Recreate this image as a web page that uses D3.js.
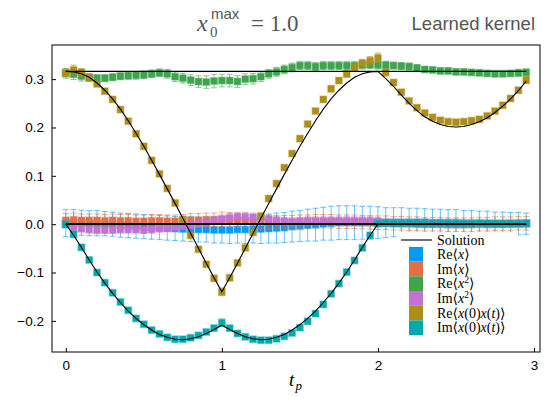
<!DOCTYPE html>
<meta charset="utf-8">
<style>body{margin:0;background:#fff} svg{display:block}</style>
<svg width="548" height="398"></svg>
<script src="https://d3js.org/d3.v7.min.js"></script>
<script>

// contour time grid
var tp = [0,0.05,0.1,0.15,0.2,0.25,0.3,0.35,0.4,0.45,0.5,0.55,0.6,0.65,0.7,0.75,0.8,0.85,0.9,0.95,
  1,1.05,1.1,1.15,1.2,1.25,1.3,1.35,1.4,1.45,1.5,1.55,1.6,1.65,1.7,1.75,1.8,1.85,1.9,1.95,
  2,2.05,2.1,2.15,2.2,2.25,2.3,2.35,2.4,2.45,2.5,2.55,2.6,2.65,2.7,2.75,2.8,2.85,2.9,2.95];

var reX = [0.002,0.003,0.003,0.002,0.002,0.001,0.000,-0.002,-0.003,-0.004,-0.005,-0.006,-0.007,-0.008,-0.009,-0.010,-0.010,-0.011,-0.011,-0.012,
  -0.012,-0.012,-0.011,-0.011,-0.010,-0.010,-0.009,-0.008,-0.007,-0.005,-0.004,-0.002,-0.001,0.001,0.002,0.003,0.003,0.003,0.003,0.003,
  0.003,0.003,0.004,0.004,0.004,0.004,0.004,0.003,0.003,0.003,0.003,0.002,0.002,0.002,0.002,0.001,0.001,0.001,0.001,0.001];
var reXErr = [0.028,0.027,0.026,0.026,0.026,0.025,0.025,0.025,0.025,0.025,0.025,0.025,0.025,0.025,0.025,0.025,0.026,0.026,0.026,0.027,
  0.027,0.028,0.028,0.029,0.029,0.030,0.030,0.031,0.031,0.032,0.032,0.033,0.034,0.034,0.035,0.035,0.035,0.035,0.034,0.034,
  0.033,0.031,0.030,0.030,0.029,0.029,0.028,0.028,0.028,0.027,0.027,0.026,0.026,0.025,0.025,0.024,0.024,0.023,0.023,0.022];

var imX = [0.008,0.009,0.008,0.008,0.008,0.007,0.008,0.007,0.007,0.006,0.006,0.007,0.007,0.006,0.006,0.007,0.008,0.008,0.009,0.009,
  0.010,0.009,0.008,0.007,0.006,0.005,0.005,0.004,0.004,0.004,0.005,0.005,0.006,0.006,0.006,0.005,0.005,0.005,0.004,0.004,
  0.003,0.003,0.002,0.002,0.001,0.001,0.000,0.000,0.000,-0.001,-0.001,-0.001,-0.001,0.000,0.000,0.001,0.001,0.001,0.002,0.002];
var imXErr = [0.014,0.014,0.013,0.013,0.013,0.013,0.013,0.013,0.013,0.013,0.013,0.013,0.013,0.013,0.013,0.013,0.014,0.014,0.014,0.014,
  0.015,0.015,0.014,0.014,0.014,0.014,0.014,0.014,0.014,0.014,0.014,0.014,0.014,0.014,0.014,0.014,0.014,0.014,0.014,0.014,
  0.014,0.014,0.014,0.014,0.014,0.014,0.014,0.014,0.014,0.014,0.014,0.014,0.014,0.014,0.014,0.014,0.014,0.014,0.014,0.014];

var reXX = [0.312,0.310,0.306,0.303,0.302,0.302,0.304,0.306,0.307,0.308,0.309,0.311,0.313,0.311,0.305,0.302,0.298,0.295,0.294,0.296,
  0.297,0.297,0.295,0.300,0.301,0.305,0.311,0.315,0.320,0.324,0.328,0.328,0.326,0.328,0.328,0.328,0.328,0.328,0.329,0.330,
  0.329,0.329,0.328,0.327,0.326,0.323,0.320,0.319,0.317,0.317,0.315,0.315,0.314,0.313,0.312,0.311,0.311,0.312,0.313,0.314];
var reXXErr = [0.010,0.011,0.010,0.008,0.007,0.007,0.007,0.007,0.007,0.008,0.008,0.008,0.008,0.009,0.010,0.010,0.011,0.012,0.013,0.014,
  0.013,0.013,0.012,0.011,0.011,0.010,0.009,0.009,0.009,0.009,0.008,0.008,0.008,0.008,0.008,0.008,0.008,0.008,0.008,0.008,
  0.008,0.008,0.007,0.007,0.007,0.007,0.006,0.006,0.006,0.006,0.006,0.006,0.006,0.006,0.006,0.006,0.006,0.006,0.007,0.007];

var imXX = [0.000,-0.006,-0.009,-0.011,-0.012,-0.012,-0.012,-0.011,-0.011,-0.011,-0.012,-0.011,-0.009,-0.008,-0.006,-0.004,-0.002,0.001,0.003,0.007,
  0.010,0.013,0.015,0.015,0.014,0.012,0.010,0.008,0.006,0.005,0.006,0.007,0.007,0.007,0.007,0.007,0.007,0.007,0.007,0.007,
  0.006,0.004,0.003,0.002,0.002,0.001,0.001,0.001,0.000,0.000,0.000,0.001,0.001,0.001,0.000,0.000,0.000,0.001,0.001,0.001];
var imXXErr = [0.006,0.007,0.007,0.007,0.007,0.007,0.007,0.007,0.007,0.007,0.007,0.007,0.007,0.007,0.007,0.007,0.007,0.008,0.008,0.008,
  0.009,0.009,0.009,0.009,0.009,0.009,0.008,0.008,0.008,0.008,0.008,0.008,0.008,0.008,0.008,0.008,0.008,0.008,0.008,0.008,
  0.007,0.006,0.006,0.006,0.006,0.006,0.006,0.006,0.006,0.006,0.006,0.006,0.006,0.006,0.006,0.006,0.006,0.006,0.006,0.006];

var reCorr = [0.313,0.319,0.314,0.304,0.290,0.275,0.258,0.237,0.213,0.187,0.161,0.132,0.104,0.074,0.044,0.010,-0.023,-0.052,-0.083,-0.112,
  -0.140,-0.111,-0.080,-0.049,-0.017,0.017,0.053,0.084,0.117,0.146,0.177,0.207,0.234,0.258,0.280,0.297,0.311,0.324,0.333,0.338,
  0.344,0.314,0.293,0.273,0.255,0.241,0.230,0.221,0.215,0.212,0.211,0.212,0.214,0.217,0.224,0.234,0.246,0.260,0.277,0.298];
var reCorrErr = [0.008,0.010,0.008,0.006,0.005,0.005,0.005,0.005,0.005,0.005,0.005,0.005,0.005,0.005,0.005,0.005,0.005,0.005,0.005,0.006,
  0.008,0.006,0.005,0.005,0.005,0.005,0.005,0.005,0.005,0.005,0.005,0.005,0.005,0.005,0.006,0.006,0.007,0.008,0.008,0.009,
  0.010,0.008,0.006,0.005,0.005,0.005,0.005,0.005,0.005,0.005,0.005,0.005,0.005,0.005,0.005,0.005,0.005,0.005,0.006,0.007];

var imCorr = [-0.001,-0.021,-0.048,-0.074,-0.100,-0.121,-0.142,-0.161,-0.178,-0.195,-0.207,-0.219,-0.227,-0.234,-0.238,-0.238,-0.235,-0.230,-0.223,-0.215,
  -0.204,-0.215,-0.226,-0.233,-0.238,-0.240,-0.240,-0.237,-0.232,-0.225,-0.214,-0.201,-0.185,-0.166,-0.144,-0.123,-0.099,-0.075,-0.049,-0.023,
  0.001,0.002,0.001,0.001,0.002,0.001,0.001,0.001,0.002,0.001,0.001,0.001,0.001,0.002,0.001,0.001,0.001,0.001,0.001,0.002];
var imCorrErr = [0.005,0.005,0.005,0.004,0.004,0.004,0.004,0.004,0.004,0.004,0.004,0.004,0.004,0.004,0.004,0.004,0.004,0.004,0.004,0.005,
  0.008,0.005,0.004,0.004,0.004,0.004,0.004,0.004,0.004,0.004,0.004,0.004,0.004,0.004,0.004,0.004,0.004,0.004,0.004,0.004,
  0.005,0.005,0.005,0.005,0.005,0.005,0.005,0.005,0.005,0.005,0.005,0.005,0.005,0.005,0.005,0.005,0.005,0.005,0.005,0.005];

// exact solution
var solFlatT = [0, 2.95];
var solReX = [0, 0], solImX = [0, 0], solReXX = [0.316, 0.316], solImXX = [0, 0];
var solReCorr = [0.316,0.315,0.311,0.304,0.292,0.277,0.259,0.238,0.214,0.188,0.161,0.132,0.103,0.073,0.043,0.012,-0.019,-0.050,-0.081,-0.111,
  -0.140,-0.111,-0.081,-0.050,-0.019,0.012,0.043,0.073,0.103,0.132,0.161,0.188,0.214,0.238,0.259,0.277,0.292,0.304,0.311,0.315,
  0.316,0.301,0.285,0.267,0.250,0.235,0.222,0.213,0.206,0.202,0.201,0.202,0.206,0.212,0.220,0.231,0.244,0.259,0.276,0.296];
var solImCorr = [0,-0.023,-0.048,-0.074,-0.099,-0.122,-0.143,-0.162,-0.180,-0.195,-0.208,-0.219,-0.228,-0.234,-0.238,-0.239,-0.237,-0.233,-0.226,-0.218,
  -0.209,-0.218,-0.226,-0.233,-0.237,-0.239,-0.238,-0.234,-0.228,-0.219,-0.208,-0.195,-0.180,-0.162,-0.143,-0.122,-0.099,-0.074,-0.048,-0.023,
  0,0,0,0,0,0,0,0,0,0,0,0,0,0,0,0,0,0,0,0];

var xTicks = [0, 1, 2, 3];
var yTicks = [-0.2, -0.1, 0, 0.1, 0.2, 0.3];

var seriesNames = ["reX", "imX", "reXX", "imXX", "reCorr", "imCorr"];
var colors = ["#009afa", "#e36f47", "#3ea44e", "#c371d2", "#ac8e18", "#00a9ad"];

var svg = d3.select("svg");
var x = d3.scaleLinear().domain([-0.0885, 3.0385]).range([52, 540]),
    y = d3.scaleLinear().domain([-0.2644, 0.3706]).range([352, 45]);

var series = [
  {vals: reX, err: reXErr},
  {vals: imX, err: imXErr},
  {vals: reXX, err: reXXErr},
  {vals: imXX, err: imXXErr},
  {vals: reCorr, err: reCorrErr},
  {vals: imCorr, err: imCorrErr}
];

var plot = svg.append("g");

series.forEach(function(s, k) {
  var c = colors[k];
  var pts = tp.map(function(t, i) { return {t: t, v: s.vals[i], e: s.err[i]}; });
  var g = plot.append("g").attr("class", seriesNames[k]);
  var eb = g.append("g").attr("stroke", c).attr("stroke-opacity", 0.6).attr("stroke-width", 1);
  eb.selectAll("line.bar").data(pts).enter().append("line").attr("class", "bar")
    .attr("x1", function(d) { return x(d.t); }).attr("x2", function(d) { return x(d.t); })
    .attr("y1", function(d) { return y(d.v - d.e); }).attr("y2", function(d) { return y(d.v + d.e); });
  [-1, 1].forEach(function(sgn) {
    eb.selectAll("line.cap" + sgn).data(pts).enter().append("line")
      .attr("x1", function(d) { return x(d.t) - 3; }).attr("x2", function(d) { return x(d.t) + 3; })
      .attr("y1", function(d) { return y(d.v + sgn * d.e); }).attr("y2", function(d) { return y(d.v + sgn * d.e); });
  });
  g.selectAll("rect").data(pts).enter().append("rect")
    .attr("x", function(d) { return x(d.t) - 3.3; })
    .attr("y", function(d) { return y(d.v) - 3.3; })
    .attr("width", 6.6).attr("height", 6.6)
    .attr("fill", c).attr("stroke", c).attr("stroke-opacity", 0.35).attr("stroke-width", 1.6);
});

// solution lines
var line = d3.line().x(function(d) { return x(d[0]); }).y(function(d) { return y(d[1]); });
var sol = svg.append("g").attr("fill", "none").attr("stroke", "#000").attr("stroke-width", 1.1);
[solReX, solImX, solReXX, solImXX].forEach(function(v) {
  sol.append("path").attr("d", line(solFlatT.map(function(t, i) { return [t, v[i]]; })));
});
[solReCorr, solImCorr].forEach(function(v) {
  sol.append("path").attr("d", line(tp.map(function(t, i) { return [t, v[i]]; })));
});

// axes
var fontTick = "'Liberation Sans', Arial, sans-serif";
svg.append("g").attr("transform", "translate(0,352)")
  .call(d3.axisBottom(x).tickValues(xTicks).tickSize(-4).tickPadding(8).tickFormat(d3.format("d")))
  .call(function(g) { g.select(".domain").remove(); })
  .selectAll("text").attr("font-family", fontTick).attr("font-size", 13.5).attr("fill", "#000");
svg.append("g").attr("transform", "translate(52,0)")
  .call(d3.axisLeft(y).tickValues(yTicks).tickSize(-4).tickPadding(8).tickFormat(d3.format(".1f")))
  .call(function(g) { g.select(".domain").remove(); })
  .selectAll("text").attr("font-family", fontTick).attr("font-size", 13.5).attr("fill", "#000");

svg.append("rect").attr("x", 52).attr("y", 45).attr("width", 488).attr("height", 307)
  .attr("fill", "none").attr("stroke", "#000").attr("stroke-width", 1);

// legend
var serif = "'Liberation Serif', 'DejaVu Serif', serif";
var leg = svg.append("g");
leg.append("rect").attr("x", 398).attr("y", 232).attr("width", 120).attr("height", 106).attr("fill", "#fff");
leg.append("line").attr("x1", 401).attr("x2", 432).attr("y1", 240).attr("y2", 240).attr("stroke", "#000").attr("stroke-width", 1.1);
leg.append("text").attr("x", 437).attr("y", 244.5).attr("font-family", serif).attr("font-size", 14).text("Solution");

var legLabels = [
  [["Re⟨"], ["x", "i"], ["⟩"]],
  [["Im⟨"], ["x", "i"], ["⟩"]],
  [["Re⟨"], ["x", "i"], ["2", "sup"], ["⟩", "down"]],
  [["Im⟨"], ["x", "i"], ["2", "sup"], ["⟩", "down"]],
  [["Re⟨"], ["x", "i"], ["(0)"], ["x", "i"], ["("], ["t", "i"], [")⟩"]],
  [["Im⟨"], ["x", "i"], ["(0)"], ["x", "i"], ["("], ["t", "i"], [")⟩"]]
];
legLabels.forEach(function(parts, k) {
  var cy = 254.3 + k * 14.7;
  leg.append("rect").attr("x", 409).attr("y", cy - 7.35).attr("width", 14).attr("height", 14.7).attr("fill", colors[k]);
  var tx = leg.append("text").attr("x", 437).attr("y", cy + 4.5).attr("font-family", serif).attr("font-size", 14);
  parts.forEach(function(p) {
    var ts = tx.append("tspan").text(p[0]);
    if (p[1] === "i") ts.attr("font-style", "italic");
    if (p[1] === "sup") ts.attr("font-size", 9.5).attr("dy", -5);
    if (p[1] === "down") ts.attr("dy", 5);
  });
});

// title
svg.append("text").attr("x", 197).attr("y", 31).attr("font-family", serif).attr("font-style", "italic")
  .attr("font-size", 24).attr("fill", "#555").text("x");
svg.append("text").attr("x", 211).attr("y", 19).attr("font-family", fontTick)
  .attr("font-size", 15).attr("fill", "#555").text("max");
svg.append("text").attr("x", 210).attr("y", 37).attr("font-family", serif)
  .attr("font-size", 15).attr("fill", "#555").text("0");
svg.append("text").attr("x", 251).attr("y", 31).attr("font-family", serif)
  .attr("font-size", 23).attr("fill", "#555").text("= 1.0");
svg.append("text").attr("x", 535).attr("y", 30).attr("text-anchor", "end").attr("font-family", fontTick)
  .attr("font-size", 18.5).attr("fill", "#555").text("Learned kernel");

// x label
svg.append("text").attr("x", 289).attr("y", 386).attr("font-family", serif).attr("font-style", "italic")
  .attr("font-size", 19).text("t");
svg.append("text").attr("x", 295.5).attr("y", 390).attr("font-family", serif).attr("font-style", "italic")
  .attr("font-size", 13).text("p");

</script>
